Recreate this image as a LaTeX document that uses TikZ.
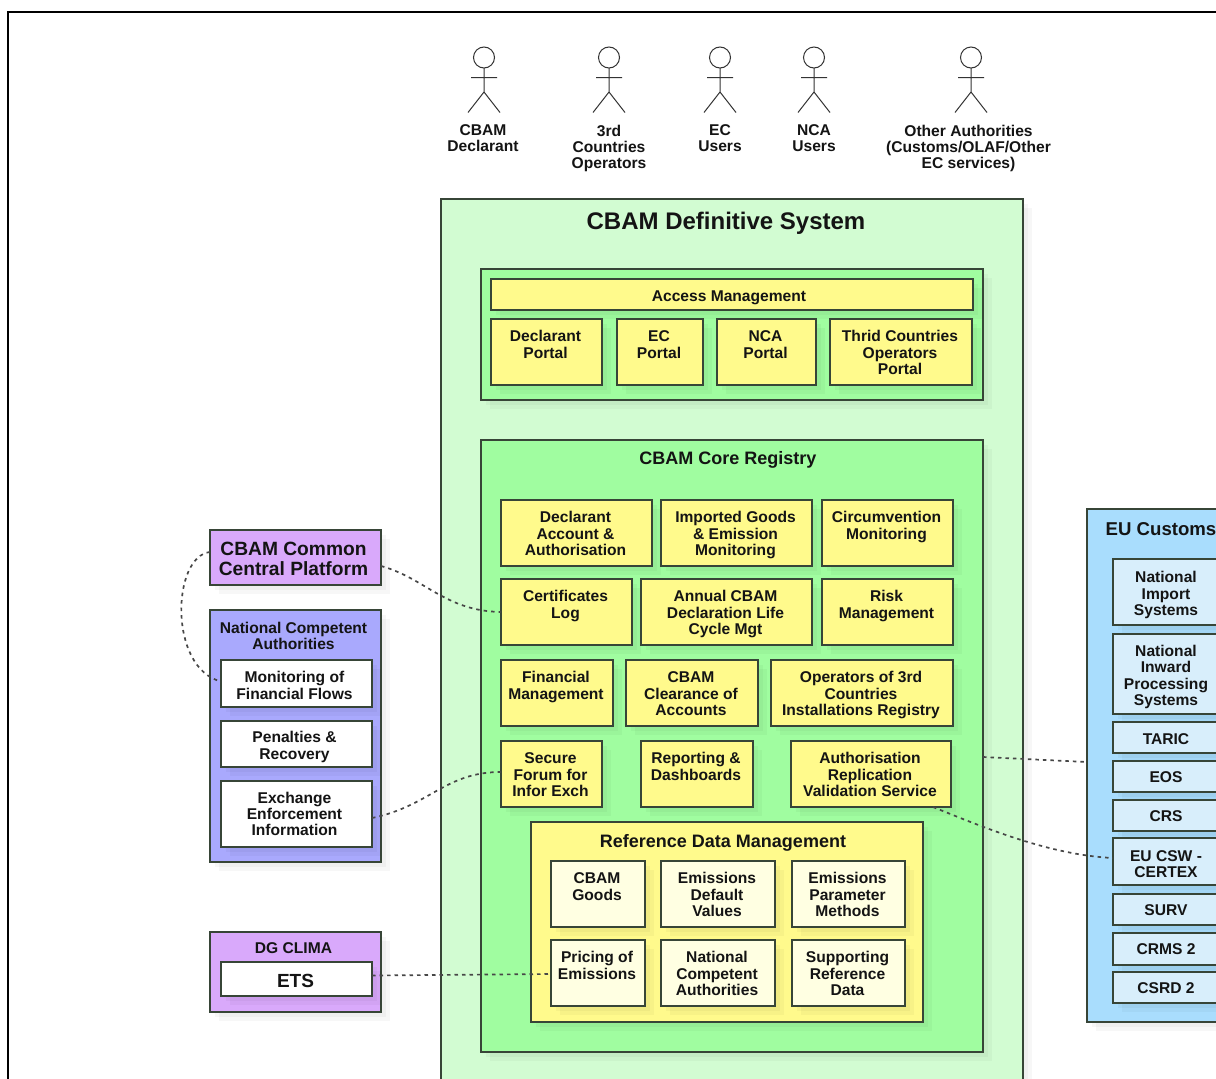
\documentclass[tikz,border=0pt]{standalone}
\usepackage{fontspec}
\setmainfont{Liberation Sans}
\usetikzlibrary{shadows}
\definecolor{ink}{HTML}{141414}
\definecolor{edge}{HTML}{374537}
\definecolor{sysfill}{HTML}{D2FCD2}
\definecolor{grpfill}{HTML}{A0FDA0}
\definecolor{yel}{HTML}{FFFA8C}
\definecolor{pale}{HTML}{FFFFE2}
\definecolor{purp}{HTML}{D9A9FB}
\definecolor{blu}{HTML}{A9A9FD}
\definecolor{sky}{HTML}{A9DDFD}
\definecolor{skyin}{HTML}{D8EEFB}
\tikzset{
 softshadow/.style={general shadow={shadow xshift=9pt,shadow yshift=-9pt,fill=black,opacity=.03},general shadow={shadow xshift=5pt,shadow yshift=-5pt,fill=black,opacity=.03}},
 basebox/.style={draw=edge,line width=1.15pt,inner sep=0pt,outer sep=0pt,anchor=north west,text=ink,softshadow,font=\fontsize{15.6}{16.2}\selectfont\bfseries},
 sysbox/.style={basebox,fill=sysfill},
 grpbox/.style={basebox,fill=grpfill},
 yelbox/.style={basebox,fill=yel},
 palebox/.style={basebox,fill=pale},
 whitebox/.style={basebox,fill=white},
 purpbox/.style={basebox,fill=purp},
 blubox/.style={basebox,fill=blu},
 skybox/.style={basebox,fill=sky},
 skyinbox/.style={basebox,fill=skyin},
 actorlabel/.style={anchor=north,align=center,inner sep=0pt,text=ink,font=\fontsize{15.6}{16.2}\selectfont\bfseries},
 stick/.style={draw=black!80,line width=1pt},
 link/.style={draw=black!72,line width=1.7pt,dash pattern=on 3.5pt off 4pt}
}
% top-aligned text: name, style, x1,y1,x2,y2, pad, text
\newcommand\bxt[8]{%
 \pgfmathsetmacro\bw{#5-#3}\pgfmathsetmacro\bh{#6-#4}%
 \node[#2] (#1) at (#3,#4) {\parbox[c][\bh pt][t]{\bw pt}{\centering\advance\rightskip 2pt\relax\vspace*{#7pt}\strut #8\strut}};}
% vertically centred text
\newcommand\bxc[7]{%
 \pgfmathsetmacro\bw{#5-#3}\pgfmathsetmacro\bh{#6-#4}%
 \node[#2] (#1) at (#3,#4) {\parbox[c][\bh pt][c]{\bw pt}{\centering\advance\rightskip 2pt\relax #7}};}
\newcommand\shl{\advance\rightskip 2pt\relax}
\newcommand\dn[1]{\vspace*{#1pt}}
\newcommand\actor[3]{%
 \draw[stick] (#1,57.5) circle (10.5);
 \draw[stick] (#1,68) -- (#1,92) (#1-13,77.5) -- (#1+13,77.5) (#1-16,112.5) -- (#1,92) -- (#1+16,112.5);
 \node[actorlabel] at (#2,124.5) {#3};}
\begin{document}
\begin{tikzpicture}[x=1pt,y=-1pt]
\path[use as bounding box] (0,0) rectangle (1216,1079);
\clip (0,0) rectangle (1216,1079);
\fill[white] (0,0) rectangle (1216,1079);
\draw[black,line width=2pt] (8,1100) -- (8,12) -- (1240,12);
\actor{484}{483}{CBAM\\Declarant}
\actor{609}{609}{3rd\\Countries\\Operators}
\actor{720}{720}{EC\\Users}
\actor{814}{814}{NCA\\Users}
\actor{971}{968.5}{Other Authorities\\(Customs/OLAF/Other\\EC services)}

\bxt{sys}{sysbox}{441}{199}{1023}{1120}{12}{\fontsize{24}{26}\selectfont\hspace*{-10pt}CBAM Definitive System}
\bxc{acc}{grpbox}{481}{269}{983}{400}{\leavevmode\strut}
\bxc{am}{yelbox}{491}{279}{973}{310}{\dn{7}\hspace*{-4pt}Access Management}
\bxt{p1}{yelbox}{491}{319}{602}{385}{11.5}{Declarant\\Portal}
\bxt{p2}{yelbox}{617}{319}{703}{385}{11.5}{EC\\Portal}
\bxt{p3}{yelbox}{717}{319}{816}{385}{11.5}{NCA\\Portal}
\bxt{p4}{yelbox}{830}{319}{972}{385}{11.5}{Thrid Countries\\Operators\\Portal}

\bxt{core}{grpbox}{481}{440}{983}{1052}{10}{\fontsize{18}{20}\selectfont\hspace*{-6pt}CBAM Core Registry}
\bxt{c1}{yelbox}{501}{500}{652}{566}{11.5}{Declarant\\Account \&\\Authorisation}
\bxt{c2}{yelbox}{661}{500}{812}{566}{11.5}{Imported Goods\\\& Emission\\Monitoring}
\bxt{c3}{yelbox}{822}{500}{953}{566}{11.5}{Circumvention\\Monitoring}
\bxt{c4}{yelbox}{501}{579}{632}{645}{11.5}{Certificates\\Log}
\bxt{c5}{yelbox}{641}{579}{812}{645}{11.5}{Annual CBAM\\Declaration Life\\Cycle Mgt}
\bxt{c6}{yelbox}{822}{579}{953}{645}{11.5}{Risk\\Management}
\bxt{c7}{yelbox}{501}{660}{613}{726}{11.5}{Financial\\Management}
\bxt{c8}{yelbox}{626}{660}{758}{726}{11.5}{CBAM\\Clearance of\\Accounts}
\bxt{c9}{yelbox}{771}{660}{953}{726}{11.5}{Operators of 3rd\\Countries\\Installations Registry}
\bxt{c10}{yelbox}{501}{741}{602}{807}{11.5}{Secure\\Forum for\\Infor Exch}
\bxt{c11}{yelbox}{641}{741}{753}{807}{11.5}{Reporting \&\\Dashboards}
\bxt{c12}{yelbox}{791}{741}{951}{807}{11.5}{Authorisation\\Replication\\Validation Service}

\bxt{ref}{yelbox}{531}{822}{923}{1022}{11}{\fontsize{18}{20}\selectfont\hspace*{-6pt}Reference Data Management}
\bxt{r1}{palebox}{551}{861}{645}{927}{11.5}{CBAM\\Goods}
\bxt{r2}{palebox}{661}{861}{775}{927}{11.5}{Emissions\\Default\\Values}
\bxt{r3}{palebox}{792}{861}{905}{927}{11.5}{Emissions\\Parameter\\Methods}
\bxt{r4}{palebox}{551}{940}{645}{1006}{11.5}{Pricing of\\Emissions}
\bxt{r5}{palebox}{661}{940}{775}{1006}{11.5}{National\\Competent\\Authorities}
\bxt{r6}{palebox}{792}{940}{905}{1006}{11.5}{Supporting\\Reference\\Data}

\bxc{ccp}{purpbox}{210}{530}{381}{585}{\dn{3}\shl\fontsize{19.2}{20}\selectfont CBAM Common\\Central Platform}
\bxt{nca}{blubox}{210}{610}{381}{862}{12}{\shl National Competent\\Authorities}
\bxc{n1}{whitebox}{221}{660}{372}{707}{\dn{4}\shl Monitoring of\\Financial Flows}
\bxc{n2}{whitebox}{221}{721}{372}{767}{\dn{6}\shl Penalties \&\\Recovery}
\bxc{n3}{whitebox}{221}{781}{372}{847}{\shl Exchange\\Enforcement\\Information}
\bxt{dg}{purpbox}{210}{932}{381}{1012}{10.5}{\shl DG CLIMA}
\bxc{ets}{whitebox}{221}{962}{372}{996}{\dn{4}\fontsize{19}{20}\selectfont ETS}

\bxt{eu}{skybox}{1087}{509}{1231}{1022}{12}{\fontsize{18.6}{20}\selectfont\hspace*{6pt}EU Customs}
\bxc{e1}{skyinbox}{1113}{559}{1221}{625}{\dn{6}National\\Import\\Systems}
\bxc{e2}{skyinbox}{1113}{634}{1221}{714}{\dn{6}National\\Inward\\Processing\\Systems}
\bxc{e3}{skyinbox}{1113}{722}{1221}{753}{\dn{4}TARIC}
\bxc{e4}{skyinbox}{1113}{761}{1221}{792}{\dn{2}EOS}
\bxc{e5}{skyinbox}{1113}{800}{1221}{831}{\dn{2}CRS}
\bxc{e6}{skyinbox}{1113}{838}{1221}{885}{\dn{6}EU CSW -\\CERTEX}
\bxc{e7}{skyinbox}{1113}{894}{1221}{925}{\dn{2}SURV}
\bxc{e8}{skyinbox}{1113}{933}{1221}{965}{CRMS 2}
\bxc{e9}{skyinbox}{1113}{972}{1221}{1003}{\dn{2}CSRD 2}

\draw[link] ([yshift=5.5pt]ccp.west) .. controls (172,556) and (168,668) .. ([yshift=2pt]n1.west);
\draw[link] ([yshift=-8.5pt]ccp.east) .. controls (425,578) and (445,611) .. (c4.west);
\draw[link] ([yshift=-4pt]n3.east) .. controls (430,806) and (445,772) .. ([yshift=2pt]c10.west);
\draw[link] ([yshift=3.5pt]ets.east) -- ([yshift=-1pt]r4.west);
\draw[link] ([yshift=-11pt]core.east) -- ([yshift=3.5pt]eu.west);
\draw[link] ([xshift=62pt]c12.south) .. controls (985,828) and (1050,855) .. ([yshift=3.5pt]e6.west);
\end{tikzpicture}
\end{document}
